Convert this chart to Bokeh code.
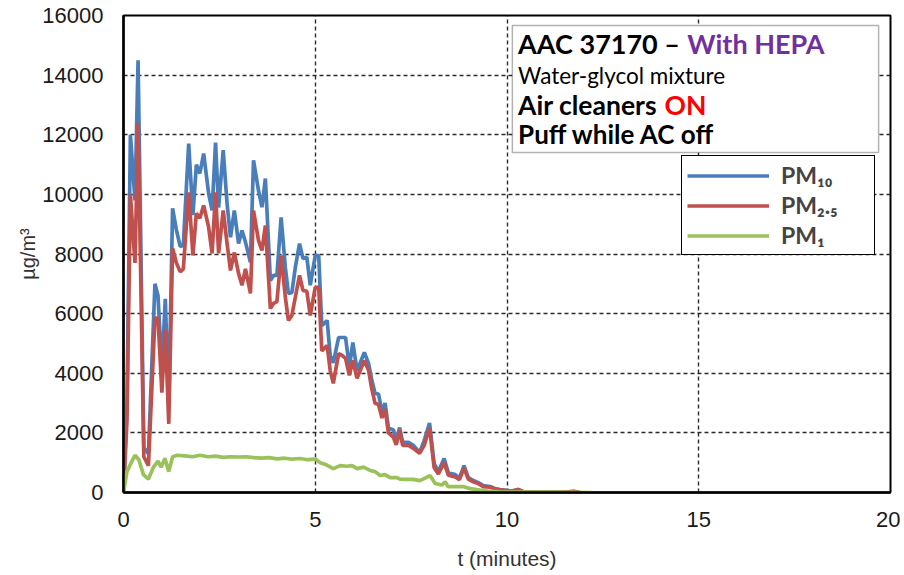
from bokeh.plotting import figure
from bokeh.models import Range1d, Legend, LegendItem, Label, BoxAnnotation
from bokeh.embed import file_html
from bokeh.resources import INLINE

# ---- data ----
t_pm = [0, 0.09, 0.18, 0.30, 0.38, 0.53, 0.65, 0.82, 0.90, 1.00, 1.09, 1.18, 1.28, 1.38, 1.48, 1.56,
        1.70, 1.81, 1.90, 1.99, 2.09, 2.22, 2.31, 2.40, 2.48, 2.60, 2.70, 2.79, 2.89, 3.00, 3.09, 3.18,
        3.31, 3.39, 3.52, 3.61, 3.70, 3.83, 3.91, 4.00, 4.11, 4.22, 4.30, 4.39, 4.48, 4.59, 4.68, 4.78,
        4.87, 5.00, 5.09, 5.17, 5.31, 5.39, 5.47, 5.61, 5.70, 5.79, 5.89, 5.98, 6.09, 6.28, 6.39, 6.47,
        6.56, 6.65, 6.74, 6.82, 6.91, 7.04, 7.11, 7.20, 7.28, 7.43, 7.56, 7.72, 7.84, 7.98, 8.10, 8.21,
        8.36, 8.47, 8.65, 8.76, 8.88, 8.99, 9.12, 9.25, 9.38, 9.56, 9.69, 9.82, 9.99, 10.12, 10.29, 10.42,
        10.70, 11.10, 11.50, 11.75, 11.90]
pm10 = [0, 2900, 12000, 9800, 14500, 1500, 1300, 7000, 6600, 4100, 6500, 2900, 9530, 8800, 8250, 8300,
        11700, 9300, 11000, 10700, 11370, 10030, 9460, 11740, 9560, 11480, 9700, 8560, 9460, 8350, 8790, 8400,
        7720, 11140, 10130, 9570, 10530, 7110, 7280, 7280, 9230, 7550, 6680, 6700, 7550, 8350, 7850, 7890,
        6950, 7950, 7950, 5600, 5770, 4600, 4350, 5200, 5200, 5200, 4200, 5030, 4090, 4700, 4330, 3800,
        3320, 3300, 2700, 3000, 2160, 2100, 1680, 2180, 1680, 1680, 1580, 1340, 1740, 2330, 970, 700,
        1140, 660, 600, 480, 900, 500, 400, 330, 230, 200, 130, 100, 70, 50, 100, 30,
        20, 10, 10, 30, 0]
pm25 = [0, 2400, 10000, 7700, 12400, 1200, 900, 5850, 5850, 3350, 5450, 2300, 8190, 7700, 7400, 7500,
        10070, 7950, 9360, 9200, 9630, 8900, 8020, 10070, 8020, 9460, 8360, 7450, 8050, 7350, 6950, 7500,
        6680, 9460, 8460, 8120, 8960, 6170, 6340, 6400, 7950, 6550, 5770, 5940, 6550, 7280, 6780, 6750,
        5940, 6880, 6880, 4750, 4930, 4090, 3660, 4660, 4600, 4500, 3930, 4430, 3830, 4430, 4100, 3500,
        2990, 2950, 2500, 2800, 2000, 1850, 1600, 2080, 1580, 1580, 1480, 1310, 1580, 2180, 840, 620,
        1000, 580, 520, 430, 820, 450, 360, 300, 200, 180, 110, 90, 60, 40, 100, 30,
        20, 10, 10, 40, 0]

t_pm1 = [0, 0.09, 0.18, 0.30, 0.40, 0.52, 0.65, 0.78, 0.90, 0.98, 1.08, 1.18, 1.28, 1.40, 1.60, 1.80,
         2.00, 2.20, 2.40, 2.60, 2.80, 3.00, 3.20, 3.40, 3.60, 3.80, 4.00, 4.20, 4.40, 4.60, 4.80, 5.00,
         5.13, 5.25, 5.47, 5.65, 5.83, 5.96, 6.09, 6.26, 6.43, 6.56, 6.69, 6.82, 6.95, 7.13, 7.21, 7.39,
         7.55, 7.73, 7.89, 7.99, 8.13, 8.30, 8.39, 8.46, 8.65, 8.85, 9.04, 9.30, 9.50, 9.82, 10.34, 11.12,
         12.21]
pm1 = [0, 700, 950, 1250, 1100, 600, 450, 850, 1050, 850, 1150, 700, 1200, 1250, 1230, 1200,
       1250, 1200, 1220, 1180, 1200, 1190, 1200, 1170, 1150, 1170, 1130, 1150, 1120, 1140, 1100, 1120,
       1000, 950, 800, 900, 880, 900, 800, 850, 740, 700, 570, 600, 500, 500, 450, 440,
       440, 400, 500, 570, 300, 250, 360, 200, 200, 200, 130, 80, 50, 20, 10, 10,
       0]

x_ticks = [0, 5, 10, 15, 20]
y_ticks = [0, 2000, 4000, 6000, 8000, 10000, 12000, 14000, 16000]
series_names = ["PM\u2081\u2080", "PM\u2082.\u2085", "PM\u2081"]
series_colors = ["#4A7EBB", "#C0504D", "#9BC25A"]

# ---- figure ----
p = figure(frame_width=767, frame_height=477, output_backend="svg", toolbar_location=None,
           x_range=Range1d(0, 20), y_range=Range1d(0, 16000),
           min_border_left=123, min_border_right=10, min_border_top=15, min_border_bottom=78,
           background_fill_color="white", border_fill_color="white")

p.outline_line_color = "black"
p.outline_line_width = 2
p.outline_line_alpha = 1

r10 = p.line(t_pm, pm10, line_color=series_colors[0], line_width=3.7)
r25 = p.line(t_pm, pm25, line_color=series_colors[1], line_width=3.7)
r1 = p.line(t_pm1, pm1, line_color=series_colors[2], line_width=3.7)

# axes
for ax in (p.xaxis[0], p.yaxis[0]):
    ax.axis_line_color = "black"
    ax.axis_line_width = 2.5
    ax.major_tick_out = 0
    ax.major_tick_in = 0
    ax.minor_tick_out = 0
    ax.minor_tick_in = 0
    ax.major_label_text_font = "Liberation Sans"
    ax.major_label_text_font_size = "22px"
    ax.major_label_text_color = "#1a1a1a"
    ax.axis_label_text_font = "Liberation Sans"
    ax.axis_label_text_font_style = "normal"
    ax.axis_label_text_color = "#333333"

p.xaxis.ticker = x_ticks
p.yaxis.ticker = y_ticks
p.xaxis.major_label_standoff = 19
p.yaxis.major_label_standoff = 20
p.xaxis.axis_label = "t (minutes)"
p.xaxis.axis_label_text_font_size = "21px"
p.xaxis.axis_label_standoff = 17
p.yaxis.axis_label = "\u00b5g/m\u00b3"
p.yaxis.axis_label_text_font_size = "20px"
p.yaxis.axis_label_standoff = 0

# grids
p.xgrid.ticker = [5, 10, 15]
p.ygrid.ticker = [2000, 4000, 6000, 8000, 10000, 12000, 14000]
for g in (p.xgrid[0], p.ygrid[0]):
    g.grid_line_color = "#2b2b2b"
    g.grid_line_width = 1.4
    g.grid_line_dash = "4 3"

# annotation text box
box = BoxAnnotation(left=10.14, right=19.69, bottom=11405, top=15664,
                    fill_color="white", fill_alpha=1, line_color="black", line_width=1.5)
p.add_layout(box)

def lab(x, y, text, size, color="black", style="bold", font="Lato"):
    p.add_layout(Label(x=x, y=y, text=text, text_font=font, text_font_size=size,
                       text_font_style=style, text_color=color, text_baseline="alphabetic",
                       text_align="left"))

lab(10.29, 15050, "AAC 37170 \u2013", "27px")
lab(14.70, 15050, "With HEPA", "27px", color="#7030A0")
lab(10.29, 13980, "Water-glycol mixture", "22.5px", style="normal")
lab(10.29, 12990, "Air cleaners", "26.5px")
lab(14.11, 12990, "ON", "26.5px", color="#FF0000")
lab(10.29, 12020, "Puff while AC off", "26px")

# legend
legend = Legend(items=[LegendItem(label=series_names[0], renderers=[r10]),
                       LegendItem(label=series_names[1], renderers=[r25]),
                       LegendItem(label=series_names[2], renderers=[r1])],
                location=(558, 237), margin=0, padding=5, spacing=2,
                glyph_width=82, glyph_height=27, label_height=27, label_width=88,
                label_standoff=12,
                label_text_font="Lato", label_text_font_style="bold", label_text_font_size="23px",
                border_line_color="black", border_line_width=1.5, border_line_alpha=1,
                background_fill_color="white", background_fill_alpha=1)
p.add_layout(legend)

open("out.html", "w").write(file_html(p, INLINE))
